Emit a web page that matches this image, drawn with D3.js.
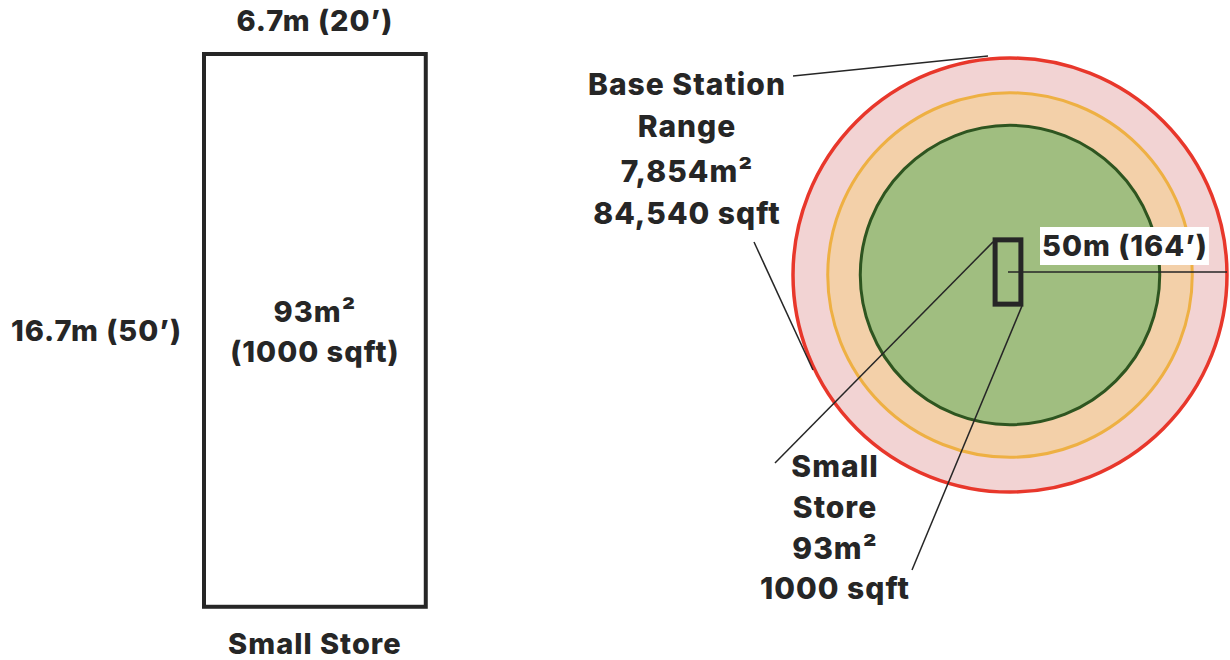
<!DOCTYPE html>
<html>
<head>
<meta charset="utf-8">
<script src="https://cdn.jsdelivr.net/npm/d3@7"></script>
<style>
  body { margin: 0; background: #fff; }
  svg text { font-family: Inter, Roboto, "Noto Sans", sans-serif; font-weight: 800; fill: #262626; letter-spacing: 1px; }
</style>
</head>
<body>
<div id="chart"></div>
<script>
// store footprint in metres [width, depth]
var storeSize = [6.7, 16.7];
// base station rings, radius in metres (outer = range)
var ringRadii = [50, 42, 34.5];
var storeLabels = ["6.7m (20’)", "16.7m (50’)", "Small Store"];
var storeArea = ["93m²", "(1000 sqft)"];
var rangeLabel = ["Base Station", "Range", "7,854m²", "84,540 sqft"];
var insetLabel = ["Small", "Store", "93m²", "1000 sqft"];
var radiusLabel = "50m (164’)";

var ringFill = ["#f2d3d3", "#f3d0a9", "#a0be80"];
var ringStroke = ["#e8372b", "#eeb043", "#2e5520"];

var W = 1230, H = 660;
var svg = d3.select('#chart').append('svg')
    .attr('width', W)
    .attr('height', H);

// ---- left: the store drawn large
var big = d3.scaleLinear().domain([0, 1]).range([0, 33.1]);
var bx = 204, by = 54;
var bw = big(storeSize[0]), bh = big(storeSize[1]);

svg.append('rect')
    .attr('x', bx).attr('y', by)
    .attr('width', bw).attr('height', bh)
    .attr('fill', 'none')
    .attr('stroke', '#262626')
    .attr('stroke-width', 4);

svg.append('text')
    .attr('x', bx + bw / 2).attr('y', 31)
    .attr('text-anchor', 'middle')
    .style('font-size', '29px')
    .text(storeLabels[0]);

svg.append('text')
    .attr('x', bx - 22).attr('y', 341)
    .attr('text-anchor', 'end')
    .style('font-size', '29px')
    .text(storeLabels[1]);

svg.append('text')
    .attr('x', bx + bw / 2).attr('y', 654)
    .attr('text-anchor', 'middle')
    .style('font-size', '29px')
    .text(storeLabels[2]);

storeArea.forEach(function(t, i) {
    svg.append('text')
        .attr('x', bx + bw / 2).attr('y', 322 + i * 40)
        .attr('text-anchor', 'middle')
        .style('font-size', '29px')
        .text(t);
});

// ---- right: range circles
var cx = 1010, cy = 275;
var r = d3.scaleLinear().domain([0, ringRadii[0]]).range([0, 217]);

svg.selectAll('.ring')
    .data(ringRadii)
    .enter().append('circle')
    .attr('class', 'ring')
    .attr('cx', cx).attr('cy', cy)
    .attr('r', d => r(d))
    .attr('fill', (d, i) => ringFill[i])
    .attr('stroke', (d, i) => ringStroke[i])
    .attr('stroke-width', (d, i) => i == 0 ? 3.5 : 3);

// small store inset (not to the ring scale, slightly shrunk)
var inset = d3.scaleLinear().domain([0, 1]).range([0, 3.85]);
var sx = 1008, sy = 272;
var sw = inset(storeSize[0]), sh = inset(storeSize[1]);

// radius line
svg.append('line')
    .attr('x1', sx).attr('y1', sy)
    .attr('x2', cx + r(ringRadii[0])).attr('y2', sy)
    .attr('stroke', '#262626')
    .attr('stroke-width', 1.5);

svg.append('rect')
    .attr('x', sx - sw / 2).attr('y', sy - sh / 2)
    .attr('width', sw).attr('height', sh)
    .attr('fill', 'none')
    .attr('stroke', '#262626')
    .attr('stroke-width', 5);

// radius label with white box
var rl = svg.append('g');
var rlBox = rl.append('rect').attr('fill', '#fff');
var rlText = rl.append('text')
    .attr('x', 1042).attr('y', 256)
    .style('font-size', '29px')
    .text(radiusLabel);
var bb = rlText.node().getBBox();
rlBox.attr('x', bb.x - 2).attr('y', 227)
    .attr('width', bb.width + 3).attr('height', 38);

// leader lines
var leaders = [
    [[793, 76], [988, 56]],
    [[754, 242], [813, 370]],
    [[sx - sw / 2 - 2, sy - sh / 2 + 2], [775, 463]],
    [[sx + sw / 2 + 1, sy + sh / 2 + 2], [912, 570]]
];
svg.selectAll('.leader')
    .data(leaders)
    .enter().append('line')
    .attr('class', 'leader')
    .attr('x1', d => d[0][0]).attr('y1', d => d[0][1])
    .attr('x2', d => d[1][0]).attr('y2', d => d[1][1])
    .attr('stroke', '#262626')
    .attr('stroke-width', 1.5);

var rangeY = [95, 137, 182, 224];
rangeLabel.forEach(function(t, i) {
    svg.append('text')
        .attr('x', 687).attr('y', rangeY[i])
        .attr('text-anchor', 'middle')
        .style('font-size', '30px')
        .text(t);
});

var insetY = [477, 518, 559, 599];
insetLabel.forEach(function(t, i) {
    svg.append('text')
        .attr('x', 835).attr('y', insetY[i])
        .attr('text-anchor', 'middle')
        .style('font-size', '30px')
        .text(t);
});
</script>
</body>
</html>
